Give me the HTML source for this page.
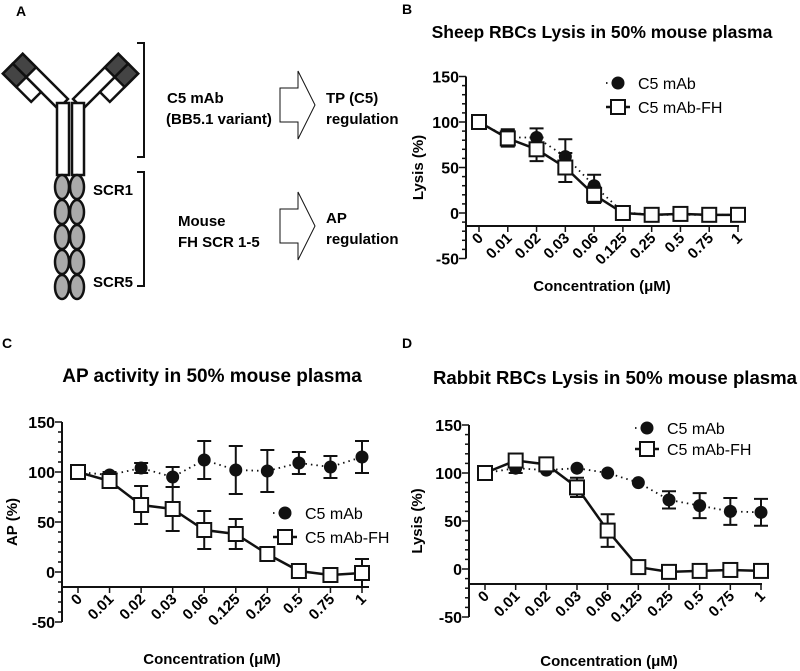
<!DOCTYPE html>
<html><head><meta charset="utf-8"><style>
body{margin:0;background:#fff;}
svg{display:block;font-family:"Liberation Sans",Arial,sans-serif;}
.b{font-weight:bold;}
</style></head><body>
<svg id="fig" width="800" height="671" viewBox="0 0 800 671">
<g font-weight="bold" font-size="15">
<text x="16" y="16" font-size="14">A</text>
<g transform="translate(63,104) rotate(45)">
<rect x="-64" y="-7" width="64" height="14" fill="#fff" stroke="#111" stroke-width="2.5"/>
<rect x="-64" y="-7" width="19" height="14" fill="#444" stroke="#111" stroke-width="2.5"/>
<rect x="-64" y="7" width="40" height="14" fill="#fff" stroke="#111" stroke-width="2.5"/>
<rect x="-64" y="7" width="19" height="14" fill="#444" stroke="#111" stroke-width="2.5"/>
</g>
<g transform="translate(78,104) scale(-1,1) rotate(45)">
<rect x="-64" y="-7" width="64" height="14" fill="#fff" stroke="#111" stroke-width="2.5"/>
<rect x="-64" y="-7" width="19" height="14" fill="#444" stroke="#111" stroke-width="2.5"/>
<rect x="-64" y="7" width="40" height="14" fill="#fff" stroke="#111" stroke-width="2.5"/>
<rect x="-64" y="7" width="19" height="14" fill="#444" stroke="#111" stroke-width="2.5"/>
</g>
<rect x="57" y="103" width="12" height="72" fill="#fff" stroke="#111" stroke-width="2.5"/>
<rect x="72" y="103" width="12" height="72" fill="#fff" stroke="#111" stroke-width="2.5"/>
<g id="ovals"></g>
<text x="93" y="195">SCR1</text>
<text x="93" y="287">SCR5</text>
<path d="M137,43 H144 V157 H137" fill="none" stroke="#111" stroke-width="2"/>
<path d="M137,172 H144 V286 H137" fill="none" stroke="#111" stroke-width="2"/>
<text x="167" y="103">C5 mAb</text>
<text x="166" y="124">(BB5.1 variant)</text>
<text x="178" y="226">Mouse</text>
<text x="178" y="247">FH SCR 1-5</text>
<path d="M280,88 H298 V71 L315,105 L298,139 V122 H280 Z" fill="#fff" stroke="#111" stroke-width="1"/>
<path d="M280,209 H298 V192 L315,226 L298,260 V243 H280 Z" fill="#fff" stroke="#111" stroke-width="1"/>
<text x="326" y="103">TP (C5)</text>
<text x="326" y="124">regulation</text>
<text x="326" y="223">AP</text>
<text x="326" y="244">regulation</text>
</g>
<text x="402" y="14" class="b" font-size="14">B</text>
<text x="2" y="348" class="b" font-size="14">C</text>
<text x="402" y="348" class="b" font-size="14">D</text>
<g id="chartB"></g>
<g id="chartC"></g>
<g id="chartD"></g>
</svg>
<script>
const categories = ["0","0.01","0.02","0.03","0.06","0.125","0.25","0.5","0.75","1"];
const yTicks = [150,100,50,0,-50];
const bMab = [100,83,83,62,30,1,-2,-2,-2,-2];
const bMabErr = [0,9,10,19,12,0,0,0,0,0];
const bFh = [100,82,70,50,20,0,-2,-1,-2,-2];
const bFhErr = [0,9,13,16,9,0,0,0,0,0];
const cMab = [100,97,104,95,112,102,101,109,105,115];
const cMabErr = [0,3,5,10,19,24,21,11,11,16];
const cFh = [100,91,67,63,42,38,18,1,-3,-1];
const cFhErr = [0,4,19,22,19,15,0,2,7,14];
const dMab = [100,105,103,105,100,90,72,66,60,59];
const dMabErr = [0,5,0,0,0,0,9,13,14,14];
const dFh = [100,113,109,85,40,2,-3,-2,-1,-2];
const dFhErr = [0,6,0,10,17,0,0,0,0,0];

const NS="http://www.w3.org/2000/svg";
function mk(parent,tag,attrs,txt){const e=document.createElementNS(NS,tag);for(const k in attrs)e.setAttribute(k,attrs[k]);if(txt!==undefined)e.textContent=txt;parent.appendChild(e);return e;}

const ov=document.getElementById('ovals');
for(let r=0;r<5;r++){for(const cx of [62,77]){
 const o=mk(ov,'ellipse',{cx:cx,cy:187+r*25,rx:7,ry:12,fill:'#aaa',stroke:'#111','stroke-width':2.5});
 
 
}}

function chart(id,cfg,mab,mabErr,fh,fhErr){
 const g=document.getElementById(id);
 const ys=v=>cfg.y0+(cfg.y100-cfg.y0)*v/100;
 const xs=i=>cfg.x0+(cfg.x1-cfg.x0)*i/(categories.length-1);
 const t=mk(g,'text',{x:cfg.tx,y:cfg.ty,'text-anchor':'middle','font-weight':'bold','font-size':cfg.tfs},cfg.title);
 
 
 const ymin=ys(-50), ymax=ys(150);
 const ya=mk(g,'line',{x1:cfg.ax,x2:cfg.ax,y1:ymax,y2:ymin,stroke:'#111','stroke-width':2});
 
 
 for(let v=-50;v<=150;v+=10){
  const big=v%50===0;
  mk(g,'line',{x1:cfg.ax-(big?7:4),x2:cfg.ax,y1:ys(v),y2:ys(v),stroke:'#111','stroke-width':1.5});
 }
 yTicks.forEach(v=>{
  const l=mk(g,'text',{x:cfg.ax-7,y:ys(v)+6,'text-anchor':'end','font-weight':'bold','font-size':16},String(v));
  
  
 });
 const yl=mk(g,'text',{transform:`translate(${cfg.ylx},${ys(50)}) rotate(-90)`,'text-anchor':'middle','font-weight':'bold','font-size':15},cfg.ylabel);
 
 
 const xa=mk(g,'line',{x1:cfg.ax,x2:cfg.x1+1,y1:cfg.xay,y2:cfg.xay,stroke:'#111','stroke-width':2});
 
 
 categories.forEach((c,i)=>{
  mk(g,'line',{x1:xs(i),x2:xs(i),y1:cfg.xay,y2:cfg.xay+6,stroke:'#111','stroke-width':1.5});
  const l=mk(g,'text',{transform:`translate(${xs(i)+5},${cfg.xay+13}) rotate(-45)`,'text-anchor':'end','font-weight':'bold','font-size':15},c);
  
  
 });
 const xl=mk(g,'text',{x:cfg.xlx,y:cfg.xly,'text-anchor':'middle','font-weight':'bold','font-size':15},'Concentration (μM)');
 
 
 function series(vals,errs,dotted,name){
  const sg=mk(g,'g',{});
  
  
  const pts=vals.map((v,i)=>xs(i)+','+ys(v)).join(' ');
  mk(sg,'polyline',{points:pts,fill:'none',stroke:'#111','stroke-width':dotted?1.8:2.5,'stroke-dasharray':dotted?'1.5,4':'none'});
  vals.forEach((v,i)=>{
   const e=errs[i];
   if(e>0){
    mk(sg,'path',{d:`M${xs(i)},${ys(v+e)}V${ys(v-e)}M${xs(i)-7},${ys(v+e)}h14M${xs(i)-7},${ys(v-e)}h14`,stroke:'#111','stroke-width':2,fill:'none'});
   }
   let m;
   if(dotted){m=mk(sg,'circle',{cx:xs(i),cy:ys(v),r:6.5,fill:'#111'});}
   else{m=mk(sg,'rect',{x:xs(i)-7,y:ys(v)-7,width:14,height:14,fill:'#fff',stroke:'#111','stroke-width':2});}
   
   
  });
 }
 series(mab,mabErr,true,'series-c5-mab');
 series(fh,fhErr,false,'series-c5-mab-fh');
 const lg=mk(g,'g',{});
 
 
 mk(lg,'line',{x1:cfg.lgx-12,x2:cfg.lgx+10,y1:cfg.lgy,y2:cfg.lgy,stroke:'#111','stroke-width':1.8,'stroke-dasharray':'1.5,4'});
 mk(lg,'circle',{cx:cfg.lgx,cy:cfg.lgy,r:6.5,fill:'#111'});
 mk(lg,'text',{x:cfg.lgx+20,y:cfg.lgy+6,'font-size':16},'C5 mAb');
 mk(lg,'line',{x1:cfg.lgx-12,x2:cfg.lgx+12,y1:cfg.lgy2,y2:cfg.lgy2,stroke:'#111','stroke-width':2.5});
 mk(lg,'rect',{x:cfg.lgx-7,y:cfg.lgy2-7,width:14,height:14,fill:'#fff',stroke:'#111','stroke-width':2});
 mk(lg,'text',{x:cfg.lgx+20,y:cfg.lgy2+6,'font-size':16},'C5 mAb-FH');
}
chart('chartB',{title:'Sheep RBCs Lysis in 50% mouse plasma',tx:602,ty:38,tfs:17.5,ax:466,y0:213,y100:122,xay:226,x0:479,x1:738,ylx:423,ylabel:'Lysis (%)',xlx:602,xly:291,lgx:618,lgy:83,lgy2:107},bMab,bMabErr,bFh,bFhErr);
chart('chartC',{title:'AP activity in 50% mouse plasma',tx:212,ty:382,tfs:19,ax:62,y0:572,y100:472,xay:587,x0:78,x1:362,ylx:17,ylabel:'AP (%)',xlx:212,xly:664,lgx:285,lgy:513,lgy2:537},cMab,cMabErr,cFh,cFhErr);
chart('chartD',{title:'Rabbit RBCs Lysis in 50% mouse plasma',tx:615,ty:384,tfs:18.6,ax:469,y0:569,y100:473,xay:584,x0:485,x1:761,ylx:422,ylabel:'Lysis (%)',xlx:609,xly:666,lgx:647,lgy:428,lgy2:449},dMab,dMabErr,dFh,dFhErr);
</script>
</body></html>
